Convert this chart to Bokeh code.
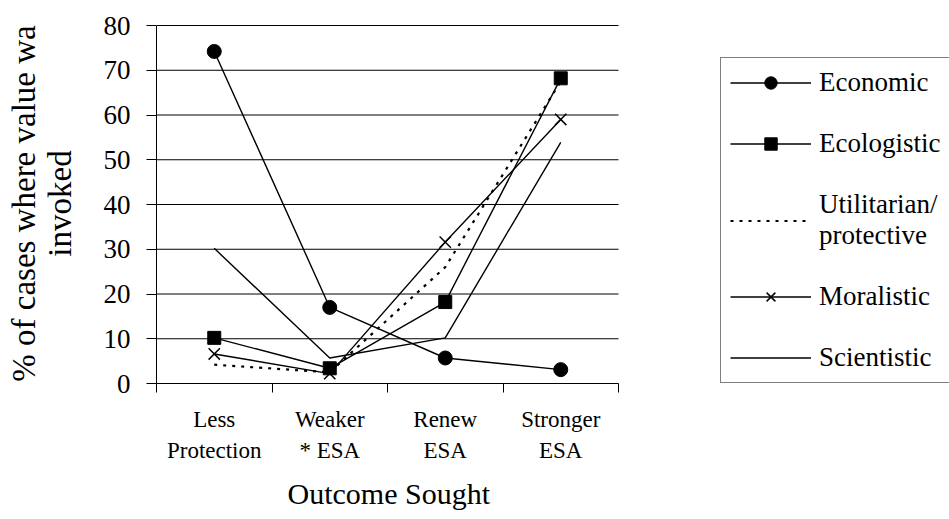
from bokeh.plotting import figure
from bokeh.models import Range1d, FixedTicker, Legend, LegendItem, Title
from bokeh.embed import file_html
from bokeh.resources import INLINE

# ---- data ----
categories = ["Less\nProtection", "Weaker\n* ESA", "Renew\nESA", "Stronger\nESA"]
economic = [74.2, 17.0, 5.7, 3.1]
ecologistic = [10.2, 3.4, 18.2, 68.2]
utilitarian = [4.2, 2.5, 26.0, 67.5]
moralistic = [6.6, 2.2, 31.6, 59.0]
scientistic = [30.2, 5.7, 10.2, 53.9]
y_ticks = [0, 10, 20, 30, 40, 50, 60, 70, 80]
series_names = ["Economic", "Ecologistic", "Utilitarian/\nprotective", "Moralistic", "Scientistic"]
x_title = "Outcome Sought"
y_title = "% of cases where value wa\ninvoked"

FONT = "Liberation Serif"
W, H = 949, 519
FL = 156            # frame left
FR = 0              # right border
PLOT_W = 462        # width of the category area
FT, FH = 23, 360    # frame top / height (small headroom above 80)
n = len(categories)
y_max = y_ticks[-1]
y_end = y_max * FH / (FH - 2)
x_end = n * (W - FL - FR) / PLOT_W   # frame runs to the right to host the legend

xs = [i + 0.5 for i in range(n)]
bounds = list(range(n + 1))

p = figure(width=W, height=H, output_backend="svg", toolbar_location=None,
           x_range=Range1d(0, x_end), y_range=Range1d(0, y_end),
           min_border_left=FL, min_border_top=FT,
           min_border_right=FR, min_border_bottom=H - FT - FH)
p.outline_line_color = None
p.background_fill_color = "white"
p.border_fill_color = "white"

# x axis
xa = p.xaxis[0]
xa.bounds = (0, n)
xa.ticker = FixedTicker(ticks=xs, minor_ticks=bounds)
xa.major_label_overrides = {x: c for x, c in zip(xs, categories)}
xa.major_tick_out = 0
xa.major_tick_in = 0
xa.minor_tick_out = 9
xa.minor_tick_in = 0
xa.axis_line_color = "black"
xa.minor_tick_line_color = "black"
xa.major_label_standoff = 14
xa.major_label_text_font = FONT
xa.major_label_text_font_size = "23px"
xa.major_label_text_color = "black"
xa.major_label_text_line_height = 1.25

# x title placed under the category area
xt = Title(text=x_title, align="left", offset=131,
           text_font=FONT, text_font_size="30px", text_font_style="normal",
           text_color="black", standoff=19)
p.add_layout(xt, "below")

# y axis
ya = p.yaxis[0]
ya.bounds = (0, y_max)
ya.ticker = FixedTicker(ticks=y_ticks)
ya.major_tick_out = 10
ya.major_tick_in = 0
ya.minor_tick_out = 0
ya.minor_tick_in = 0
ya.axis_line_color = "black"
ya.major_tick_line_color = "black"
ya.major_label_standoff = 16
ya.major_label_text_font = FONT
ya.major_label_text_font_size = "27px"
ya.major_label_text_color = "black"
ya.axis_label = y_title
ya.axis_label_text_font = FONT
ya.axis_label_text_font_size = "33px"
ya.axis_label_text_font_style = "normal"
ya.axis_label_text_color = "black"
ya.axis_label_text_line_height = 1.0
ya.axis_label_standoff = 23

# horizontal gridlines, limited to the category area
p.xgrid.visible = False
p.ygrid.visible = False
p.segment(x0=[0] * len(y_ticks), x1=[n] * len(y_ticks), y0=y_ticks, y1=y_ticks,
          line_color="black", line_width=1, level="underlay")

# series
lw = 1.4
items = []
r1 = p.line(xs, economic, line_color="black", line_width=lw)
m1 = p.scatter(xs, economic, marker="circle", size=14, color="black")
items.append(LegendItem(label=series_names[0], renderers=[r1, m1]))

r2 = p.line(xs, ecologistic, line_color="black", line_width=lw)
m2 = p.scatter(xs, ecologistic, marker="square", size=13, color="black")
items.append(LegendItem(label=series_names[1], renderers=[r2, m2]))

r3 = p.line(xs, utilitarian, line_color="black", line_width=2.2, line_dash="3 6")
items.append(LegendItem(label=series_names[2], renderers=[r3]))

r4 = p.line(xs, moralistic, line_color="black", line_width=lw)
m4 = p.scatter(xs, moralistic, marker="x", size=16, line_color="black", line_width=1.5)
items.append(LegendItem(label=series_names[3], renderers=[r4, m4]))

r5 = p.line(xs, scientistic, line_color="black", line_width=lw)
items.append(LegendItem(label=series_names[4], renderers=[r5]))

legend = Legend(items=items, location=(720 - FL, 0))
legend.border_line_color = "black"
legend.border_line_width = 1
legend.background_fill_color = "white"
legend.background_fill_alpha = 1
legend.padding = 9
legend.spacing = 30
legend.glyph_width = 81
legend.glyph_height = 31
legend.label_height = 31
legend.label_width = 200
legend.label_standoff = 8
legend.label_text_font = FONT
legend.label_text_font_size = "27px"
legend.label_text_color = "black"
legend.label_text_line_height = 0.95
legend.margin = 0
p.add_layout(legend)

open("out.html", "w").write(file_html(p, INLINE))
